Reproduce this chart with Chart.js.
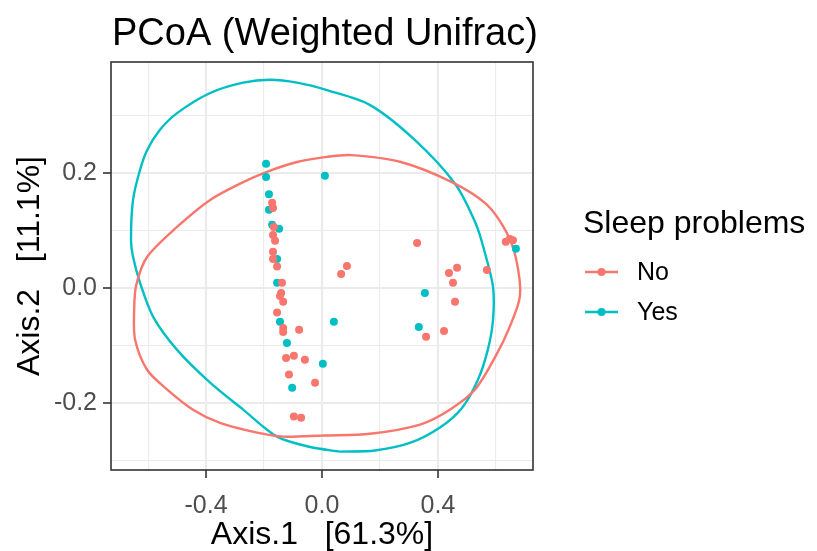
<!DOCTYPE html>
<html>
<head>
<meta charset="utf-8">
<script src="https://cdn.jsdelivr.net/npm/chart.js@4.4.0/dist/chart.umd.min.js"></script>
<style>
  html, body { margin: 0; padding: 0; background: #fff; }
</style>
</head>
<body>
<canvas id="pcoa" width="817" height="551"></canvas>
<script>
// PCoA scatter, weighted unifrac
const chartTitle = 'PCoA (Weighted Unifrac)';
const xTitle = 'Axis.1   [61.3%]';
const yTitle = 'Axis.2   [11.1%]';
const legendTitle = 'Sleep problems';
const groups = ['No', 'Yes'];
const groupColors = ['#F8766D', '#00BFC4'];

const xRange = [-0.728, 0.728];
const yRange = [-0.317, 0.393];
const xTicks = [-0.6, -0.4, -0.2, 0, 0.2, 0.4, 0.6];
const xLabels = [-0.4, 0, 0.4];
const yTicks = [-0.3, -0.2, -0.1, 0, 0.1, 0.2, 0.3];
const yLabels = [-0.2, 0, 0.2];

// samples without sleep problems
const noX = [-0.172, -0.169, -0.166, -0.169, -0.162, -0.169, -0.169, -0.155, -0.138, -0.141,
             -0.145, -0.134, -0.155, -0.134, -0.134, -0.079, -0.124, -0.097, -0.059, -0.114,
             -0.024, -0.097, -0.072, 0.086, 0.066, 0.328, 0.438, 0.466, 0.452, 0.569,
             0.459, 0.359, 0.421, 0.634, 0.648, 0.659];
const noY = [0.148, 0.139, 0.106, 0.092, 0.082, 0.063, 0.050, 0.037, 0.009, -0.009,
             -0.014, -0.024, -0.043, -0.070, -0.077, -0.073, -0.122, -0.118, -0.125, -0.151,
             -0.165, -0.224, -0.226, 0.038, 0.024, 0.078, 0.026, 0.035, 0.009, 0.031,
             -0.024, -0.085, -0.075, 0.080, 0.085, 0.083];

// samples with sleep problems
const yesX = [-0.193, -0.193, -0.183, -0.183, -0.172, -0.148, -0.155, -0.155, -0.145, -0.121,
              -0.103, 0.003, 0.041, 0.010, 0.355, 0.334, 0.669];
const yesY = [0.216, 0.193, 0.163, 0.136, 0.110, 0.103, 0.050, 0.009, -0.059, -0.096,
              -0.174, -0.132, -0.059, 0.195, -0.009, -0.068, 0.068];

// 95% ellipses, outline (starting at the bottom)
const noEllX = [0.003, -0.134, -0.224, -0.352, -0.445, -0.534, -0.603, -0.645, -0.648, -0.641,
                -0.603, -0.500, -0.386, -0.272, -0.190, -0.086, 0.017, 0.100, 0.272, 0.448,
                0.566, 0.634, 0.669, 0.683, 0.645, 0.600, 0.528, 0.441, 0.338, 0.166, 0.003];
const noEllY = [-0.257, -0.259, -0.252, -0.235, -0.212, -0.177, -0.143, -0.090, -0.038, 0.005,
                0.054, 0.106, 0.153, 0.184, 0.202, 0.219, 0.228, 0.231, 0.219, 0.184,
                0.146, 0.099, 0.052, -0.014, -0.071, -0.118, -0.177, -0.212, -0.238, -0.254, -0.257];
const yesEllX = [0.062, -0.041, -0.155, -0.272, -0.386, -0.500, -0.583, -0.628, -0.652, -0.659,
                 -0.652, -0.628, -0.603, -0.559, -0.500, -0.386, -0.272, -0.179, -0.086, 0.017,
                 0.166, 0.321, 0.459, 0.531, 0.562, 0.590, 0.590, 0.572, 0.538, 0.483,
                 0.407, 0.303, 0.183, 0.062];
const yesEllY = [-0.285, -0.277, -0.259, -0.212, -0.165, -0.108, -0.050, 0.009, 0.054, 0.083,
                 0.153, 0.205, 0.240, 0.275, 0.304, 0.339, 0.357, 0.362, 0.357, 0.344,
                 0.318, 0.257, 0.181, 0.111, 0.061, 0.002, -0.056, -0.108, -0.160, -0.209,
                 -0.243, -0.270, -0.283, -0.285];

const FONT = '"Liberation Sans", Arial, sans-serif';

function pairs(xs, ys) {
    return xs.map((x, i) => ({ x: x, y: ys[i] }));
}

function hasValue(list, v) {
    return list.some(t => Math.abs(t - v) < 1e-9);
}

const decor = {
    id: 'decor',
    afterDraw(chart) {
        const ctx = chart.ctx;
        const a = chart.chartArea;
        ctx.save();
        // panel border
        ctx.strokeStyle = '#333333';
        ctx.lineWidth = 1.6;
        ctx.strokeRect(a.left, a.top, a.right - a.left, a.bottom - a.top);

        // title
        ctx.fillStyle = '#000000';
        ctx.textAlign = 'left';
        ctx.textBaseline = 'alphabetic';
        ctx.font = '38px ' + FONT;
        ctx.fillText(chartTitle, a.left + 1, 45);

        // legend
        ctx.font = '32px ' + FONT;
        ctx.fillText(legendTitle, 583, 233);
        ctx.font = '25px ' + FONT;
        ctx.textBaseline = 'middle';
        groups.forEach((g, i) => {
            const y = 272 + i * 40;
            ctx.strokeStyle = groupColors[i];
            ctx.lineWidth = 2.4;
            ctx.beginPath();
            ctx.moveTo(585, y);
            ctx.lineTo(618, y);
            ctx.stroke();
            ctx.fillStyle = groupColors[i];
            ctx.beginPath();
            ctx.arc(601.5, y, 4, 0, Math.PI * 2);
            ctx.fill();
            ctx.fillStyle = '#000000';
            ctx.fillText(g, 637, y + 1);
        });
        ctx.restore();
    }
};

function axisOptions(range, ticks, labels, isX) {
    return {
        type: 'linear',
        min: range[0],
        max: range[1],
        border: { display: false },
        afterBuildTicks: function (scale) {
            scale.ticks = ticks.map(v => ({ value: v }));
        },
        afterFit: function (scale) {
            if (isX) scale.height = 81; else scale.width = 111;
        },
        grid: {
            color: '#EBEBEB',
            lineWidth: c => hasValue(labels, c.tick.value) ? 2 : 1.1,
            tickColor: c => hasValue(labels, c.tick.value) ? '#333333' : 'rgba(0,0,0,0)',
            tickWidth: 1.6,
            tickLength: 8
        },
        ticks: {
            color: '#4D4D4D',
            font: { family: FONT, size: 25 },
            padding: isX ? 13 : 6,
            maxRotation: 0,
            autoSkip: false,
            callback: v => hasValue(labels, v) ? v.toFixed(1) : ''
        },
        title: {
            display: true,
            text: isX ? xTitle : yTitle,
            color: '#000000',
            font: { family: FONT, size: 32, lineHeight: 1 },
            padding: { top: isX ? -8 : 14, bottom: 0 }
        }
    };
}

new Chart(document.getElementById('pcoa'), {
    type: 'scatter',
    data: {
        datasets: [
            { label: 'No', data: pairs(noX, noY), backgroundColor: groupColors[0], borderWidth: 0, pointRadius: 4 },
            { label: 'Yes', data: pairs(yesX, yesY), backgroundColor: groupColors[1], borderWidth: 0, pointRadius: 4 },
            { label: 'No ellipse', data: pairs(noEllX, noEllY), showLine: true, borderColor: groupColors[0],
              borderWidth: 2.4, pointRadius: 0, tension: 0.3, fill: false },
            { label: 'Yes ellipse', data: pairs(yesEllX, yesEllY), showLine: true, borderColor: groupColors[1],
              borderWidth: 2.4, pointRadius: 0, tension: 0.3, fill: false }
        ]
    },
    options: {
        responsive: false,
        animation: false,
        devicePixelRatio: 1,
        layout: { padding: { top: 62, right: 284, bottom: 0, left: 0 } },
        plugins: {
            legend: { display: false },
            tooltip: { enabled: false },
            title: { display: false }
        },
        scales: {
            x: axisOptions(xRange, xTicks, xLabels, true),
            y: axisOptions(yRange, yTicks, yLabels, false)
        }
    },
    plugins: [decor]
});
</script>
</body>
</html>
